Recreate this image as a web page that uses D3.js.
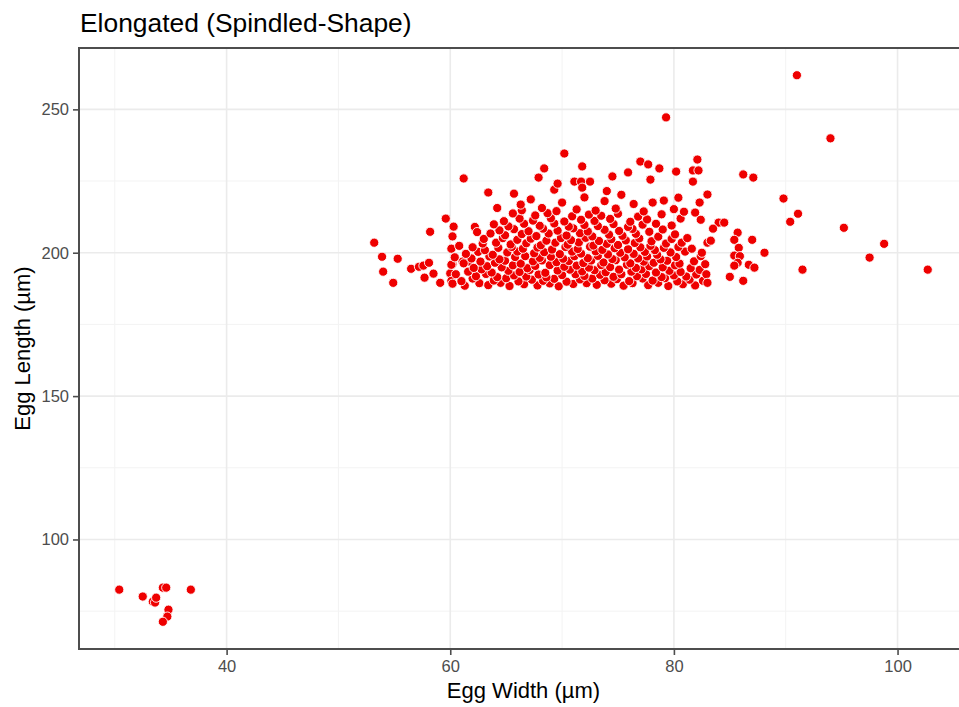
<!DOCTYPE html>
<html>
<head>
<meta charset="utf-8">
<script src="https://cdn.jsdelivr.net/npm/d3@7"></script>
<style>
  body { margin: 0; background: #fff; }
  svg { font-family: "Liberation Sans", Arial, sans-serif; }
</style>
</head>
<body>
<div id="chart"></div>
<script>
// egg widths / lengths (µm), one row of the cloud per line
const clusterSmall = [
  [30.4, 82.5], [32.5, 80.1], [33.4, 78.3], [33.6, 78.0], [33.7, 79.7],
  [34.3, 83.2], [34.6, 83.2], [34.8, 75.5], [34.7, 73.1], [34.3, 71.3], [36.8, 82.5]
];

const leftEdge = [
  [53.2, 203.5], [53.9, 198.6], [55.3, 197.9], [54.0, 193.4], [54.9, 189.5],
  [58.2, 207.3], [59.6, 211.9], [56.5, 194.4], [57.2, 195.1], [57.6, 195.5],
  [58.1, 196.5], [57.7, 191.3], [58.5, 192.7], [59.1, 189.5], [60.0, 192.8],
  [60.3, 209.1], [60.2, 205.7], [60.1, 201.4], [60.2, 196.0], [60.1, 190.2],
  [61.1, 196.9], [61.7, 196.9], [62.2, 209.0], [62.4, 207.2]
];

const rowYs = [188.9, 190.5, 192.0, 193.6, 195.2, 196.8, 198.3, 199.9, 201.5,
  203.0, 204.6, 206.2, 207.9, 209.6, 211.4, 213.2, 215.0];

const rowXs = [
  [60.2, 61.3, 62.6, 63.4, 64.5, 65.3, 66.6, 67.8, 68.9, 69.7, 71.0, 72.2, 73.1, 74.4, 75.5, 76.3, 77.7, 78.6, 79.5, 80.8, 81.9],
  [61.0, 62.0, 63.9, 65.0, 66.1, 67.3, 68.3, 69.3, 70.4, 71.6, 72.7, 73.8, 74.9, 76.0, 77.2, 78.1, 79.2, 80.3, 81.4, 82.6],
  [60.5, 62.3, 63.2, 64.2, 65.7, 66.8, 67.9, 68.6, 70.0, 71.2, 72.0, 73.4, 74.6, 75.3, 76.7, 77.5, 78.9, 80.0, 81.1, 82.0],
  [61.6, 62.8, 63.7, 65.2, 66.2, 67.1, 68.5, 69.6, 70.7, 71.8, 72.9, 73.9, 75.1, 76.2, 77.1, 78.4, 79.6, 80.6, 82.3],
  [60.1, 62.1, 63.3, 64.6, 65.6, 66.9, 67.6, 68.9, 70.2, 71.3, 72.4, 73.5, 74.3, 75.8, 76.6, 77.8, 79.0, 80.1, 81.5],
  [61.2, 62.7, 64.0, 64.9, 66.3, 67.4, 68.2, 69.5, 70.6, 71.9, 72.6, 73.7, 74.8, 76.1, 77.3, 78.2, 79.4, 80.5, 81.8],
  [60.4, 61.9, 63.5, 64.4, 65.8, 66.7, 68.0, 69.0, 70.1, 71.1, 72.3, 73.2, 74.5, 75.6, 76.8, 77.6, 78.8, 80.2, 82.4],
  [61.4, 62.5, 63.8, 65.1, 66.0, 67.5, 68.4, 69.8, 70.9, 71.7, 73.0, 74.1, 75.2, 76.4, 77.4, 78.5, 79.7, 81.0],
  [62.0, 63.1, 64.3, 65.5, 66.5, 67.8, 69.1, 70.3, 71.4, 72.5, 73.6, 74.7, 75.9, 77.0, 78.3, 79.1, 80.4, 81.6],
  [60.8, 62.9, 64.1, 65.4, 66.8, 68.1, 69.4, 70.5, 71.5, 72.8, 74.0, 75.0, 76.5, 77.9, 79.3, 80.7],
  [63.0, 64.7, 66.0, 67.2, 68.6, 69.9, 70.8, 72.1, 73.3, 74.4, 75.7, 76.9, 78.0, 79.8, 81.2],
  [63.6, 64.9, 66.4, 67.7, 68.8, 70.4, 71.6, 72.7, 74.2, 75.4, 76.6, 78.6, 80.1],
  [64.4, 65.7, 67.0, 68.3, 69.6, 71.0, 72.3, 73.8, 75.1, 76.3, 77.8, 79.0],
  [63.9, 65.2, 66.6, 68.0, 69.3, 70.6, 72.0, 73.2, 74.6, 75.9, 77.2, 78.4, 79.8],
  [64.8, 66.2, 67.4, 69.0, 70.2, 71.7, 72.9, 74.3, 76.1, 77.6, 80.6],
  [65.6, 67.6, 68.7, 70.9, 72.4, 73.5, 75.0, 76.8, 78.9],
  [66.4, 68.2, 69.5, 71.3, 73.0, 74.8, 77.3, 80.0]
];

// small wiggle per row position, read as the cloud is not a grid
const rowShift = [0.3, -0.4, 0.5, -0.2, 0.6, -0.5, 0.1, -0.3, 0.4, -0.6, 0.2, 0.5, -0.1];

const upperScatter = [
  [65.7, 220.6], [63.4, 221.0], [61.2, 225.9], [69.3, 222.0], [69.6, 224.1],
  [71.1, 224.8], [71.7, 224.8], [72.5, 224.8], [71.8, 222.7], [68.4, 229.4],
  [67.9, 226.2], [70.2, 234.6], [71.8, 230.1], [74.5, 226.6], [75.9, 228.0],
  [77.0, 231.8], [77.7, 230.8], [78.7, 229.4], [77.9, 225.5], [80.2, 228.3],
  [82.1, 232.5], [81.7, 228.7], [82.2, 228.7], [81.7, 224.8], [79.3, 247.2],
  [67.2, 218.6], [70.0, 217.5], [72.0, 219.3], [73.8, 218.0], [75.3, 220.2],
  [76.4, 217.0], [78.1, 217.5], [79.1, 218.2], [80.4, 219.2], [82.3, 217.5],
  [81.9, 214.0], [80.9, 214.3], [74.0, 221.5], [66.3, 216.8], [64.2, 215.6]
];

const rightScatter = [
  [83.0, 220.3], [84.0, 210.5], [84.5, 210.5], [83.5, 208.4], [83.0, 203.5],
  [83.3, 204.2], [85.7, 207.0], [85.4, 204.5], [87.0, 204.5], [85.8, 201.7],
  [88.1, 200.0], [85.4, 199.0], [85.9, 198.8], [85.7, 196.5], [86.7, 195.8],
  [87.2, 194.8], [85.4, 195.5], [85.0, 191.6], [86.2, 190.2], [86.2, 227.3],
  [87.1, 226.2], [89.8, 218.9], [90.4, 210.8], [91.1, 213.6], [91.5, 194.1],
  [91.0, 261.9], [94.0, 239.9], [95.2, 208.7], [98.8, 203.1], [97.5, 198.3],
  [102.7, 194.1], [82.5, 200.0], [82.8, 196.0], [82.9, 192.5], [83.0, 189.5],
  [82.4, 211.5]
];

const xTicks = [40, 60, 80, 100];
const yTicks = [100, 150, 200, 250];
const xMinor = [30, 50, 70, 90];
const yMinor = [75, 125, 175, 225];

const titleText = 'Elongated (Spindled-Shape)';
const xLabel = 'Egg Width (µm)';
const yLabel = 'Egg Length (µm)';

const width = 959;
const height = 707;
const panel = { left: 79, top: 48, right: 968, bottom: 649 };

const points = [];
clusterSmall.forEach(d => points.push(d));
leftEdge.forEach(d => points.push(d));
rowXs.forEach((xs, r) => {
  xs.forEach((x, i) => {
    points.push([x, rowYs[r] + rowShift[(i + r) % rowShift.length]]);
  });
});
upperScatter.forEach(d => points.push(d));
rightScatter.forEach(d => points.push(d));

const x = d3.scaleLinear().domain([26.8, 106.3]).range([panel.left, panel.right]);
const y = d3.scaleLinear().domain([61.8, 271.4]).range([panel.bottom, panel.top]);

const svg = d3.select('#chart').
append('svg').
attr('width', width).
attr('height', height);

const clipId = 'panel-clip';
svg.append('clipPath').attr('id', clipId).
append('rect').
attr('x', panel.left).attr('y', panel.top).
attr('width', panel.right - panel.left).attr('height', panel.bottom - panel.top);

const grid = svg.append('g');

grid.selectAll('.minor-x').data(xMinor).enter().append('line').
attr('x1', d => x(d)).attr('x2', d => x(d)).
attr('y1', panel.top).attr('y2', panel.bottom).
attr('stroke', '#f3f3f3').attr('stroke-width', 1);

grid.selectAll('.minor-y').data(yMinor).enter().append('line').
attr('y1', d => y(d)).attr('y2', d => y(d)).
attr('x1', panel.left).attr('x2', panel.right).
attr('stroke', '#f3f3f3').attr('stroke-width', 1);

grid.selectAll('.major-x').data(xTicks).enter().append('line').
attr('x1', d => x(d)).attr('x2', d => x(d)).
attr('y1', panel.top).attr('y2', panel.bottom).
attr('stroke', '#ebebeb').attr('stroke-width', 1.6);

grid.selectAll('.major-y').data(yTicks).enter().append('line').
attr('y1', d => y(d)).attr('y2', d => y(d)).
attr('x1', panel.left).attr('x2', panel.right).
attr('stroke', '#ebebeb').attr('stroke-width', 1.6);

svg.append('g').
attr('clip-path', 'url(#' + clipId + ')').
selectAll('circle').
data(points).
enter().
append('circle').
attr('cx', d => x(d[0])).
attr('cy', d => y(d[1])).
attr('r', 4.6).
attr('fill', '#ee0000').
attr('stroke', '#ffffff').
attr('stroke-width', 0.9);

// panel border
svg.append('rect').
attr('x', panel.left).attr('y', panel.top).
attr('width', panel.right - panel.left).attr('height', panel.bottom - panel.top).
attr('fill', 'none').attr('stroke', '#4d4d4d').attr('stroke-width', 2);

const xAxis = d3.axisBottom(x).tickValues(xTicks).tickSize(6).tickPadding(5);
const yAxis = d3.axisLeft(y).tickValues(yTicks).tickSize(6).tickPadding(4);

const gx = svg.append('g').
attr('transform', 'translate(0,' + panel.bottom + ')').
call(xAxis);
const gy = svg.append('g').
attr('transform', 'translate(' + panel.left + ',0)').
call(yAxis);

[gx, gy].forEach(g => {
  g.select('.domain').remove();
  g.selectAll('line').attr('stroke', '#4d4d4d').attr('stroke-width', 1.6);
  g.selectAll('text').
  attr('fill', '#4d4d4d').
  style('font-size', '16.5px').
  style('font-family', '"Liberation Sans", Arial, sans-serif');
});

svg.append('text').
attr('x', 80).
attr('y', 32).
attr('fill', '#000').
style('font-size', '26.4px').
text(titleText);

svg.append('text').
attr('x', (panel.left + panel.right) / 2).
attr('y', 698).
attr('text-anchor', 'middle').
attr('fill', '#000').
style('font-size', '22px').
text(xLabel);

svg.append('text').
attr('transform', 'translate(30,' + (panel.top + panel.bottom) / 2 + ') rotate(-90)').
attr('text-anchor', 'middle').
attr('fill', '#000').
style('font-size', '22px').
text(yLabel);
</script>
</body>
</html>
